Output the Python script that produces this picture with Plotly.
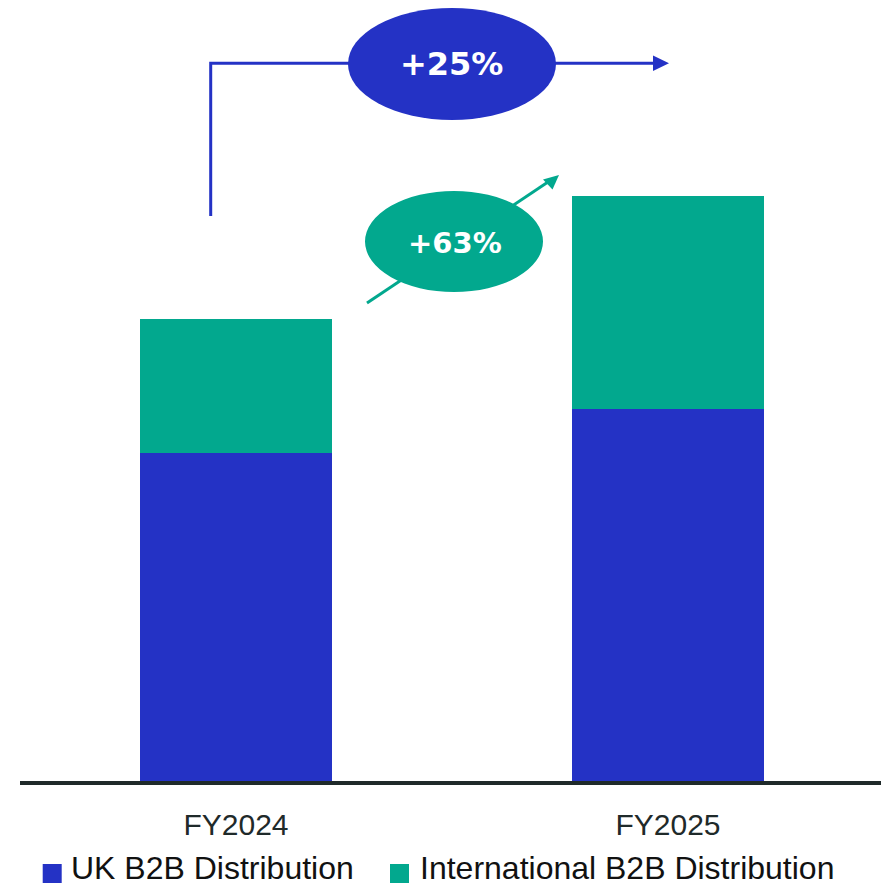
import plotly.graph_objects as go

# Revenue split by segment (bar heights), FY2024 vs FY2025
years = ["FY2024", "FY2025"]
uk_b2b = [32.8, 37.2]
intl_b2b = [13.4, 21.3]
growth_total = "+25%"
growth_intl = "+63%"

BLUE = "#2432C5"
GREEN = "#02A88E"
INK = "#1F2A2A"

W, H = 881, 888
M_L, M_R, M_T, M_B = 20, 0, 0, 107
PLOT_W = W - M_L - M_R
PLOT_H = H - M_T - M_B

# axis geometry (432 px between category centres, 10 px per unit)
X_RANGE = [-0.5, -0.5 + PLOT_W / 432]
Y_RANGE = [0, PLOT_H / 10]
xpos = list(range(len(years)))


def dx(px):
    """pixel column -> x data value"""
    return X_RANGE[0] + (px - M_L) / PLOT_W * (X_RANGE[1] - X_RANGE[0])


def dy(py):
    """pixel row -> y data value"""
    return Y_RANGE[0] + (M_T + PLOT_H - py) / PLOT_H * (Y_RANGE[1] - Y_RANGE[0])


def px_paper(px):
    return (px - M_L) / PLOT_W


def py_paper(py):
    return (M_T + PLOT_H - py) / PLOT_H


fig = go.Figure()
fig.add_trace(go.Bar(x=xpos, y=uk_b2b, name="UK B2B Distribution",
                     marker=dict(color=BLUE, line=dict(width=0)), width=0.444,
                     hoverinfo="skip"))
fig.add_trace(go.Bar(x=xpos, y=intl_b2b, name="International B2B Distribution",
                     marker=dict(color=GREEN, line=dict(width=0)), width=0.444,
                     hoverinfo="skip"))

shapes = []
# total growth bracket with arrow
shapes.append(dict(type="path", xref="x", yref="y",
                   path=f"M{dx(210.7)},{dy(216)} L{dx(210.7)},{dy(63.3)} L{dx(656)},{dy(63.3)}",
                   line=dict(color=BLUE, width=3)))
shapes.append(dict(type="path", xref="x", yref="y",
                   path=f"M{dx(653)},{dy(55.5)} L{dx(669)},{dy(63.3)} L{dx(653)},{dy(71)} Z",
                   fillcolor=BLUE, line=dict(width=0)))
shapes.append(dict(type="circle", xref="x", yref="y",
                   x0=dx(348), x1=dx(556), y0=dy(8), y1=dy(120),
                   fillcolor=BLUE, line=dict(width=0)))
# international growth arrow
shapes.append(dict(type="path", xref="x", yref="y",
                   path=f"M{dx(367)},{dy(303)} L{dx(551)},{dy(180)}",
                   line=dict(color=GREEN, width=3)))
shapes.append(dict(type="path", xref="x", yref="y",
                   path=f"M{dx(559)},{dy(175)} L{dx(552.5)},{dy(189.5)} L{dx(543)},{dy(179.5)} Z",
                   fillcolor=GREEN, line=dict(width=0)))
shapes.append(dict(type="circle", xref="x", yref="y",
                   x0=dx(365), x1=dx(543), y0=dy(191), y1=dy(292),
                   fillcolor=GREEN, line=dict(width=0)))

# legend swatches
legend_items = [("UK B2B Distribution", BLUE, 42.7, 69),
                ("International B2B Distribution", GREEN, 390, 418)]
annotations = [
    dict(x=dx(451), y=dy(64), xref="x", yref="y", text=growth_total, showarrow=False,
         font=dict(family="DejaVu Sans", size=32, color="white", weight="bold")),
    dict(x=dx(455), y=dy(243), xref="x", yref="y", text=growth_intl, showarrow=False,
         font=dict(family="DejaVu Sans", size=29, color="white", weight="bold")),
]
for label, color, sx, tx in legend_items:
    shapes.append(dict(type="rect", xref="paper", yref="paper",
                       x0=px_paper(sx), x1=px_paper(sx + 19),
                       y0=py_paper(883), y1=py_paper(864),
                       fillcolor=color, line=dict(width=0)))
    annotations.append(dict(x=px_paper(tx), y=py_paper(888), xref="paper", yref="paper",
                            xanchor="left", yanchor="bottom", text=label, showarrow=False,
                            font=dict(family="Liberation Sans", size=32, color="#111111")))

fig.update_layout(
    width=W, height=H,
    margin=dict(l=M_L, r=M_R, t=M_T, b=M_B, autoexpand=False),
    barmode="stack",
    showlegend=False,
    plot_bgcolor="white", paper_bgcolor="white",
    shapes=shapes, annotations=annotations,
    xaxis=dict(range=X_RANGE, tickvals=xpos, ticktext=years, showgrid=False,
               zeroline=False, showline=True, linecolor=INK, linewidth=4,
               ticks="", ticklabelstandoff=14,
               tickfont=dict(family="Liberation Sans", size=30, color=INK),
               fixedrange=True),
    yaxis=dict(range=Y_RANGE, visible=False, fixedrange=True),
)

fig.write_html("out.html", config=dict(displayModeBar=False))
